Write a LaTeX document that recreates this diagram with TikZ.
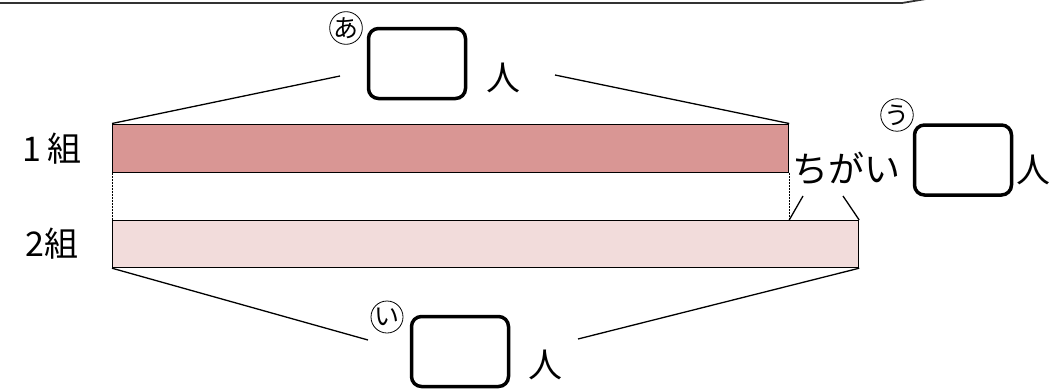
\documentclass[tikz,border=0pt]{standalone}
\usepackage{fontspec}
\newfontfamily\jp{Noto Sans CJK JP}
\definecolor{barA}{RGB}{217,150,148}
\definecolor{barB}{RGB}{242,220,219}
\begin{document}
\begin{tikzpicture}[x=1pt,y=-1pt,
  ansbox/.style={draw,line width=3.5pt,rounded corners=10pt,minimum width=97pt,minimum height=70pt,inner sep=0pt},
  circ/.style={draw,circle,line width=0.8pt,minimum size=32pt,inner sep=0pt,font=\jp\fontsize{25}{25}\selectfont},
  lbl/.style={font=\jp\fontsize{34}{34}\selectfont,inner sep=0pt},
  bar/.style={draw,line width=1.2pt,anchor=north west,inner sep=0pt},
  conn/.style={line width=1.3pt}]
\useasboundingbox (0,0) rectangle (1055,391);
% top edge of a bubble
\coordinate (t1) at (-2,3);
\coordinate (t2) at (902,3);
\coordinate (t3) at (932,-2);
\draw[line width=1.8pt,black!80] (t1) -- (t2) -- (t3);
% bars
\node[bar,fill=barA,minimum width=676pt,minimum height=48pt] (b1) at (112,123.5) {};
\node[bar,fill=barB,minimum width=746pt,minimum height=47pt] (b2) at (112,220) {};
\draw[densely dotted,line width=0.5pt] (b1.south west) -- (b2.north west);
\coordinate (d2) at (b2.north west -| b1.south east);
\draw[densely dotted,line width=0.5pt] (b1.south east) -- (d2);
% labels
\node[lbl] (l1) at (52,149) {1\,組};
\node[lbl] (l2) at (52,244) {2組};
% top answer
\node[ansbox] (ba) at (417,63.5) {};
\node[circ] (ca) at (346,28) {あ};
\node[lbl] (pa) at (503,78) {人};
\coordinate (ta) at (340,76);
\coordinate (tb) at (555,75);
\draw[conn] (b1.north west) -- (ta);
\draw[conn] (tb) -- (b1.north east);
% bottom answer
\node[ansbox] (bi) at (460,351.5) {};
\node[circ] (ci) at (387,317) {い};
\node[lbl] (pi) at (545,365) {人};
\coordinate (ua) at (368,340);
\coordinate (ub) at (578,339);
\draw[conn] (b2.south west) -- (ua);
\draw[conn] (ub) -- (b2.south east);
% difference
\node[font=\jp\fontsize{36}{36}\selectfont,inner sep=0pt] (ch) at (846,168) {ちがい};
\coordinate (ca1) at (803,196);
\coordinate (ca2) at (843,196);
\draw[conn] (d2) -- (ca1);
\draw[conn] (ca2) -- (b2.north east);
\node[ansbox] (bu) at (963,160) {};
\node[circ] (cu) at (897,115) {う};
\node[lbl] (pu) at (1033,170) {人};
\end{tikzpicture}
\end{document}
